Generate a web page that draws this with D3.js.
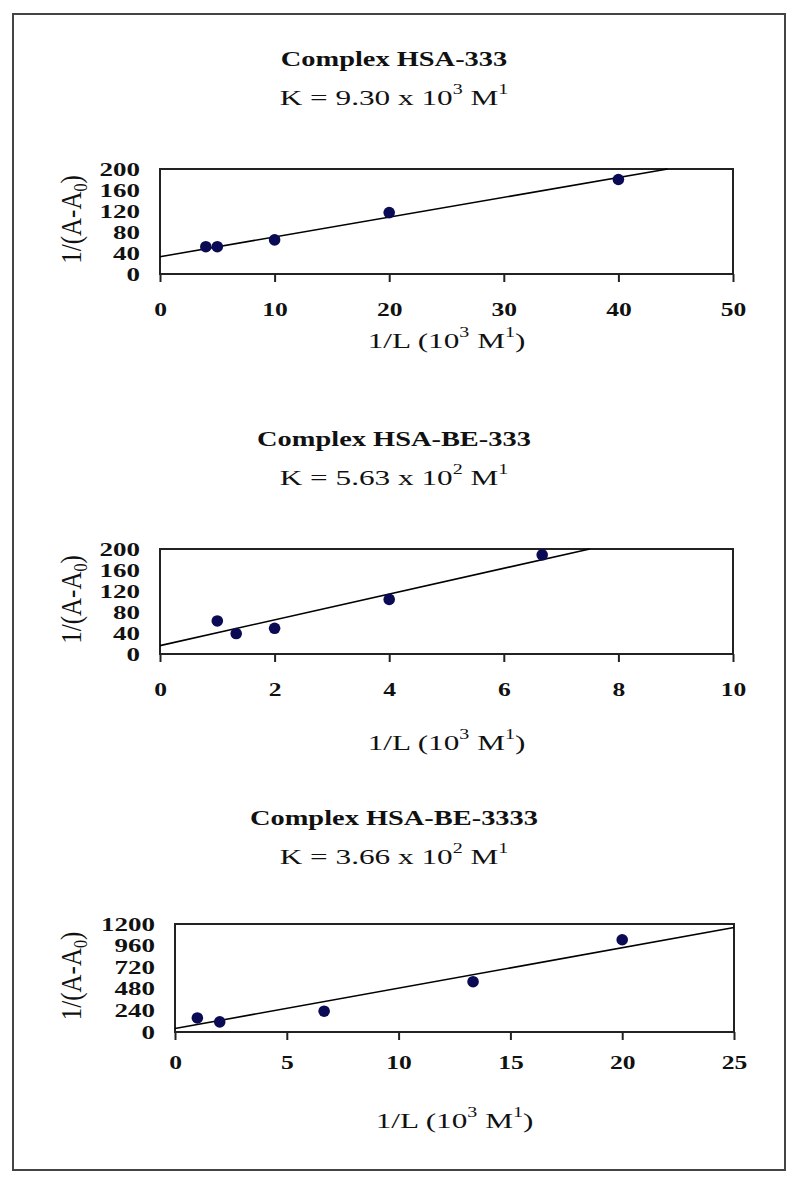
<!DOCTYPE html>
<html>
<head>
<meta charset="utf-8">
<script src="https://cdn.jsdelivr.net/npm/d3@7"></script>
<style>
  body { margin: 0; background: #fff; }
  svg text { font-family: "Liberation Serif", "Times New Roman", serif; fill: #111; }
</style>
</head>
<body>
<svg id="chart" width="800" height="1186"></svg>
<script>
// ---- data ----
const titles = ['Complex HSA-333', 'Complex HSA-BE-333', 'Complex HSA-BE-3333'];
const kMantissa = ['9.30', '5.63', '3.66'];
const kExponent = ['3', '2', '2'];
const xDomains = [[0, 50], [0, 10], [0, 25]];
const yDomains = [[0, 200], [0, 200], [0, 1200]];
const xTicks = [[0, 10, 20, 30, 40, 50], [0, 2, 4, 6, 8, 10], [0, 5, 10, 15, 20, 25]];
const yTicks = [[0, 40, 80, 120, 160, 200], [0, 40, 80, 120, 160, 200], [0, 240, 480, 720, 960, 1200]];
const pointsX = [[4, 5, 10, 20, 40], [1, 1.33, 2, 4, 6.67], [1, 2, 6.67, 13.33, 20]];
const pointsY = [[52, 52, 65, 117, 180], [63, 39, 49, 104, 189], [156, 112, 231, 559, 1025]];
// trend line end points
const fitX = [[0, 44.3], [0, 7.5], [0, 25]];
const fitY = [[33, 200], [16, 200], [38, 1162]];

// ---- layout ----
const PANELS = [
  { left: 160, right: 733, top: 169, bottom: 274, title: 66, tickY: 36, labelY: 74 },
  { left: 160, right: 733, top: 549, bottom: 654, title: 446, tickY: 36, labelY: 96 },
  { left: 175, right: 734, top: 924, bottom: 1032, title: 825, tickY: 31, labelY: 96 }
];
const TITLE_CX = 394;
const SX = 1.42;           // the source image is stretched sideways
const DOT = '#0b0b55';

const svg = d3.select('#chart');

// outer frame
svg.append('rect')
  .attr('x', 13).attr('y', 14).attr('width', 772).attr('height', 1156)
  .attr('fill', 'none').attr('stroke', '#444').attr('stroke-width', 2);

// widen text horizontally like the source
function stretch(sel, f) {
  sel.each(function () {
    const len = this.getComputedTextLength();
    d3.select(this).attr('textLength', len * f).attr('lengthAdjust', 'spacingAndGlyphs');
  });
}

// text with superscripts: parts = [[str, isSup], ...]
function richText(g, x, y, parts, size, weight) {
  const t = g.append('text')
    .attr('x', x).attr('y', y)
    .attr('text-anchor', 'middle')
    .style('font-size', size + 'px')
    .style('font-weight', weight);
  let raised = false;
  for (const [s, sup] of parts) {
    const ts = t.append('tspan').text(s);
    if (sup && !raised) { ts.attr('dy', -0.5 * size).style('font-size', (size * 0.64) + 'px'); raised = true; }
    else if (sup) { ts.style('font-size', (size * 0.64) + 'px'); }
    else if (!sup && raised) { ts.attr('dy', 0.5 * size); raised = false; }
  }
  return t;
}

PANELS.forEach((p, i) => {
  const g = svg.append('g');

  const x = d3.scaleLinear().domain(xDomains[i]).range([p.left, p.right]);
  const y = d3.scaleLinear().domain(yDomains[i]).range([p.bottom, p.top]);

  // titles
  stretch(g.append('text')
    .attr('x', TITLE_CX).attr('y', p.title)
    .attr('text-anchor', 'middle')
    .style('font-size', '20px').style('font-weight', 'bold')
    .text(titles[i]), SX);

  stretch(richText(g, TITLE_CX, p.title + 39,
    [['K = ' + kMantissa[i] + ' x 10', false], [kExponent[i], true], [' M', false], ['1', true]],
    22, 'normal'), SX);

  // plot box
  g.append('rect')
    .attr('x', p.left).attr('y', p.top)
    .attr('width', p.right - p.left).attr('height', p.bottom - p.top)
    .attr('fill', 'none').attr('stroke', '#222').attr('stroke-width', 2);

  // x axis
  const xa = g.append('g')
    .attr('transform', `translate(0,${p.bottom})`)
    .call(d3.axisBottom(x).tickValues(xTicks[i]).tickSize(8).tickFormat(d3.format('d')));
  xa.select('.domain').remove();
  xa.selectAll('.tick line').attr('stroke', '#222').attr('stroke-width', 2);
  xa.selectAll('.tick text')
    .attr('y', p.tickY).attr('dy', '0.35em')
    .style('font-size', '18px').style('font-weight', 'bold').attr('fill', '#111');
  stretch(xa.selectAll('.tick text'), SX);

  // y axis
  const ya = g.append('g')
    .attr('transform', `translate(${p.left},0)`)
    .call(d3.axisLeft(y).tickValues(yTicks[i]).tickSize(0).tickPadding(20).tickFormat(d3.format('d')));
  ya.select('.domain').remove();
  ya.selectAll('.tick text')
    .style('font-size', '19px').style('font-weight', 'bold').attr('fill', '#111');
  stretch(ya.selectAll('.tick text'), SX);

  // x axis label
  stretch(richText(g, (p.left + p.right) / 2, p.bottom + p.labelY,
    [['1/L (10', false], ['3', true], [' M', false], ['1', true], [')', false]],
    22, 'normal'), SX);

  // y axis label (rotated)
  const cy = (p.top + p.bottom) / 2 - 2;
  const yl = g.append('text')
    .attr('transform', `translate(81,${cy}) scale(1.15,1) rotate(-90)`)
    .attr('text-anchor', 'middle')
    .style('font-size', '25px');
  yl.append('tspan').text('1/(A-A');
  yl.append('tspan').text('0').attr('dy', 5).style('font-size', '16px');
  yl.append('tspan').text(')').attr('dy', -5);

  // trend line
  const line = d3.line().x(d => x(d[0])).y(d => y(d[1]));
  g.append('path')
    .datum(fitX[i].map((v, k) => [v, fitY[i][k]]))
    .attr('d', line)
    .attr('fill', 'none').attr('stroke', '#000').attr('stroke-width', 1.6);

  // data points
  g.selectAll('circle.pt')
    .data(pointsX[i].map((v, k) => [v, pointsY[i][k]]))
    .join('circle')
    .attr('class', 'pt')
    .attr('cx', d => x(d[0])).attr('cy', d => y(d[1]))
    .attr('r', 5.8)
    .attr('fill', DOT);
});
</script>
</body>
</html>
